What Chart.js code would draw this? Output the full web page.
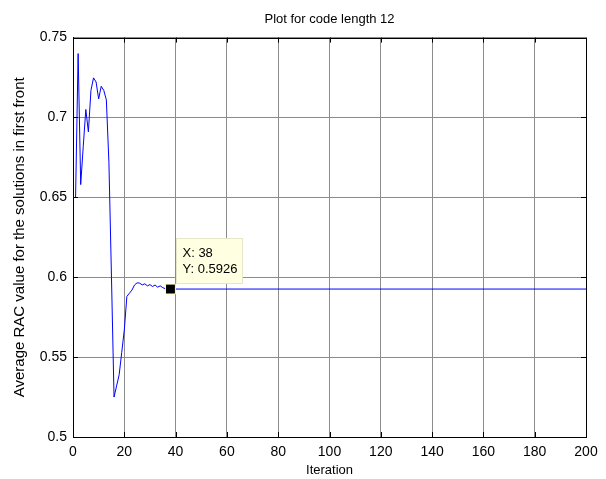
<!DOCTYPE html>
<html>
<head>
<meta charset="utf-8">
<title>Plot for code length 12</title>
<script src="https://cdn.jsdelivr.net/npm/chart.js@4.4.1/dist/chart.umd.min.js"></script>
<style>
    html, body { margin: 0; padding: 0; background: #ffffff; }
    #wrap { width: 606px; height: 479px; }
</style>
</head>
<body>
<div id="wrap"><canvas id="racChart" width="606" height="479"></canvas></div>
<script>
// Valores médios de RAC por iteração (frente 1)
const iterations = [
    1, 2, 3, 4, 5, 6, 7, 8, 9, 10,
    11, 12, 13, 14, 15, 16, 17, 18, 19, 20,
    21, 22, 23, 24, 25, 26, 27, 28, 29, 30,
    31, 32, 33, 34, 35, 36, 37, 38, 200
];
const racValues = [
    0.650, 0.740, 0.658, 0.682, 0.705, 0.691, 0.717, 0.7248, 0.7222, 0.7116,
    0.7195, 0.717, 0.711, 0.672, 0.600, 0.525, 0.532, 0.539, 0.553, 0.567,
    0.588, 0.590, 0.592, 0.5952, 0.5965, 0.5963, 0.5952, 0.5959, 0.5946, 0.5954,
    0.5942, 0.5951, 0.5938, 0.5946, 0.5935, 0.5928, 0.5926, 0.5926, 0.5926
];
const xTicks = [0, 20, 40, 60, 80, 100, 120, 140, 160, 180, 200];
const yTicks = [0.5, 0.55, 0.6, 0.65, 0.7, 0.75];

// Ponto destacado (data tip)
const markedIteration = 38;
const markedValue = 0.5926;

const FONT = "'Liberation Sans', Arial, Helvetica, sans-serif";

// Borda preta + marcas de escala para dentro nos quatro lados
const axesBox = {
    id: 'axesBox',
    afterDraw(chart) {
        const { ctx, chartArea: a, scales: { x, y } } = chart;
        const len = 5;
        ctx.save();
        ctx.strokeStyle = '#000';
        ctx.lineWidth = 1;
        ctx.beginPath();
        xTicks.forEach(v => {
            const px = Math.round(x.getPixelForValue(v)) + 0.5;
            ctx.moveTo(px, a.bottom); ctx.lineTo(px, a.bottom - len);
            ctx.moveTo(px, a.top); ctx.lineTo(px, a.top + len);
        });
        yTicks.forEach(v => {
            const py = Math.round(y.getPixelForValue(v)) + 0.5;
            ctx.moveTo(a.left, py); ctx.lineTo(a.left + len, py);
            ctx.moveTo(a.right, py); ctx.lineTo(a.right - len, py);
        });
        ctx.stroke();
        ctx.strokeRect(Math.round(a.left) + 0.5, Math.round(a.top) + 0.5,
            Math.round(a.right - a.left), Math.round(a.bottom - a.top));
        ctx.restore();
    }
};

// Caixa de texto do data tip
const dataTip = {
    id: 'dataTip',
    afterDraw(chart) {
        const { ctx, scales: { x, y } } = chart;
        const px = x.getPixelForValue(markedIteration);
        const py = y.getPixelForValue(markedValue);
        const left = Math.round(px + 6) + 0.5;
        const top = Math.round(py - 51) + 0.5;
        ctx.save();
        ctx.fillStyle = '#ffffe1';
        ctx.strokeStyle = '#e6e6c8';
        ctx.lineWidth = 1;
        ctx.fillRect(left, top, 66, 45);
        ctx.strokeRect(left, top, 66, 45);
        ctx.fillStyle = '#000';
        ctx.font = '13px ' + FONT;
        ctx.textBaseline = 'middle';
        ctx.fillText('X: ' + markedIteration, left + 6, top + 15);
        ctx.fillText('Y: ' + markedValue, left + 6, top + 31);
        ctx.restore();
    }
};

new Chart(document.getElementById('racChart'), {
    type: 'line',
    data: {
        datasets: [{
            data: iterations.map((it, i) => ({ x: it, y: racValues[i] })),
            borderColor: '#0000ff',
            borderWidth: 1,
            tension: 0,
            fill: false,
            pointStyle: 'rect',
            pointRadius: c => (c.raw && c.raw.x === markedIteration ? 7 : 0),
            pointHoverRadius: 0,
            pointBackgroundColor: '#000000',
            pointBorderColor: '#ffffc8',
            pointBorderWidth: 1
        }]
    },
    options: {
        responsive: false,
        animation: false,
        events: [],
        layout: { padding: { left: 0, right: 20, top: 0, bottom: 0 } },
        plugins: {
            legend: { display: false },
            tooltip: { enabled: false },
            title: {
                display: true,
                fullSize: false,
                text: 'Plot for code length 12',
                color: '#000',
                font: { family: FONT, size: 13, weight: 'normal' },
                padding: { top: 12, bottom: 10 }
            }
        },
        scales: {
            x: {
                type: 'linear',
                min: 0,
                max: 200,
                afterBuildTicks: s => { s.ticks = xTicks.map(v => ({ value: v })); },
                afterFit: s => { s.height = 42; },
                grid: { color: '#8c8c8c', drawTicks: false },
                border: { color: '#000' },
                ticks: { color: '#000', padding: 7, maxRotation: 0, font: { family: FONT, size: 14 } },
                title: {
                    display: true,
                    text: 'Iteration',
                    color: '#000',
                    font: { family: FONT, size: 13 },
                    padding: { top: 0, bottom: 1 }
                }
            },
            y: {
                min: 0.5,
                max: 0.75,
                afterBuildTicks: s => { s.ticks = yTicks.map(v => ({ value: v })); },
                afterFit: s => { s.width = 73; },
                grid: { color: '#8c8c8c', drawTicks: false },
                border: { color: '#000' },
                ticks: {
                    color: '#000',
                    padding: 6,
                    font: { family: FONT, size: 14 },
                    callback: v => String(+v.toFixed(2))
                },
                title: {
                    display: true,
                    text: 'Average RAC value for the solutions in first front',
                    color: '#000',
                    font: { family: FONT, size: 15 },
                    padding: { top: 11, bottom: 0 }
                }
            }
        }
    },
    plugins: [axesBox, dataTip]
});
</script>
</body>
</html>
